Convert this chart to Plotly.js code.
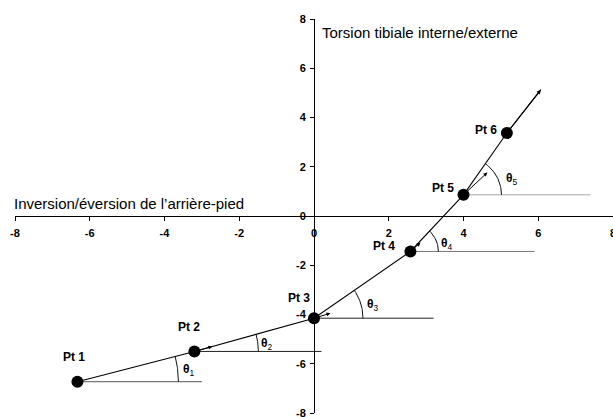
<!DOCTYPE html>
<html><head><meta charset="utf-8">
<script src="https://cdn.plot.ly/plotly-3.0.1.min.js"></script>
<style>html,body{margin:0;padding:0;background:#fff}#chart{width:613px;height:417px}</style>
</head><body><div id="chart"></div>
<script>
// Data
const pointNames = ["Pt 1", "Pt 2", "Pt 3", "Pt 4", "Pt 5", "Pt 6"];
const pointX = [-6.33, -3.2, 0.0, 2.58, 4.0, 5.16];
const pointY = [-6.73, -5.5, -4.15, -1.44, 0.86, 3.37];
const pathEndX = 6.07, pathEndY = 5.13;          // tip of the main arrow
const refLineEndX = [-3.0, 0.2, 3.2, 5.9, 7.4];  // horizontal reference lines from Pt1..Pt5
const smallArrowTipX = [-2.72, 0.44, 2.85, 4.64];  // small arrows at Pt2..Pt5
const smallArrowTipY = [-5.3, -3.95, -1.08, 1.77];
const angleNames = ["<b>θ</b><sub>1</sub>", "<b>θ</b><sub>2</sub>", "<b>θ</b><sub>3</sub>", "<b>θ</b><sub>4</sub>", "<b>θ</b><sub>5</sub>"];
const tickVals = [-8, -6, -4, -2, 0, 2, 4, 6, 8];
const xTitle = "Inversion/éversion de l’arrière-pied";
const yTitle = "Torsion tibiale interne/externe";

// layout constants
const W = 613, H = 417, M = {l: 15, r: 0, t: 19, b: 4, pad: 0};
const XR = [-8, 8], YR = [-8, 8];
const sx = (W - M.l - M.r) / (XR[1] - XR[0]);
const sy = (H - M.t - M.b) / (YR[1] - YR[0]);
const refColors = ["#555", "#222", "#222", "#777", "#aaa"];
const arcRadius = [101, 64, 49, 28, 38];
const labelShift = [[-3, 25], [-5, 24], [-15, 20], [-26, 5], [-21, 7], [-21, 3]];
const thetaShift = [[112, 12], [73, 7], [59, 13], [37, 7], [48, 16]];

const font = "Liberation Sans, Arial, Helvetica, sans-serif";
const traces = [];

// horizontal reference lines
for (let i = 0; i < refLineEndX.length; i++) {
  traces.push({x: [pointX[i], refLineEndX[i]], y: [pointY[i], pointY[i]], mode: "lines",
    line: {color: refColors[i], width: 1}, hoverinfo: "skip", showlegend: false});
}
// angle arcs (drawn in pixel space, converted to data)
for (let i = 0; i < arcRadius.length; i++) {
  const ang = Math.atan2((pointY[i + 1] - pointY[i]) * sy, (pointX[i + 1] - pointX[i]) * sx);
  const ax = [], ay = [];
  for (let k = 0; k <= 40; k++) {
    const t = ang * k / 40;
    ax.push(pointX[i] + arcRadius[i] * Math.cos(t) / sx);
    ay.push(pointY[i] + arcRadius[i] * Math.sin(t) / sy);
  }
  traces.push({x: ax, y: ay, mode: "lines", line: {color: "#111", width: 1}, hoverinfo: "skip", showlegend: false});
}
// main path
traces.push({x: pointX.concat([pathEndX]), y: pointY.concat([pathEndY]), mode: "lines",
  line: {color: "#000", width: 1.1}, hoverinfo: "skip", showlegend: false});
// points
traces.push({x: pointX, y: pointY, mode: "markers", marker: {color: "#000", size: 12},
  text: pointNames, hoverinfo: "text", showlegend: false});

const annotations = [];
pointNames.forEach((n, i) => annotations.push({x: pointX[i], y: pointY[i], xref: "x", yref: "y",
  text: n, showarrow: false, xshift: labelShift[i][0], yshift: labelShift[i][1],
  font: {family: font, size: 12, color: "#000", weight: "bold"}}));
angleNames.forEach((n, i) => annotations.push({x: pointX[i], y: pointY[i], xref: "x", yref: "y",
  text: n, showarrow: false, xshift: thetaShift[i][0], yshift: thetaShift[i][1],
  font: {family: font, size: 12, color: "#000"}}));
// main arrow head
annotations.push({x: pathEndX, y: pathEndY, ax: pointX[5], ay: pointY[5], xref: "x", yref: "y",
  axref: "x", ayref: "y", text: "", showarrow: true, arrowhead: 2, arrowsize: 0.8, arrowwidth: 1.1, arrowcolor: "#000"});
// small arrows
smallArrowTipX.forEach((tx, i) => annotations.push({x: tx, y: smallArrowTipY[i], ax: pointX[i + 1], ay: pointY[i + 1],
  xref: "x", yref: "y", axref: "x", ayref: "y", text: "", showarrow: true, arrowhead: 2,
  arrowsize: 0.8, arrowwidth: 1, arrowcolor: "#000", standoff: 0, startstandoff: 0}));
// axis titles
annotations.push({x: XR[0], y: 0.5, xref: "x", yref: "y", xanchor: "left", yanchor: "middle", xshift: -3,
  text: xTitle, showarrow: false, font: {family: font, size: 15, color: "#000"}});
annotations.push({x: 0, y: 7.47, xref: "x", yref: "y", xanchor: "left", yanchor: "middle", xshift: 6,
  text: yTitle, showarrow: false, font: {family: font, size: 15, color: "#000"}});

const axisCommon = {showgrid: false, zeroline: false, showline: true, linecolor: "#000", linewidth: 1,
  ticks: "outside", ticklen: 4, tickcolor: "#000", tickvals: tickVals, ticktext: tickVals.map(String),
  tickfont: {family: font, size: 11, color: "#000", weight: "bold"}, anchor: "free", fixedrange: true,
  ticklabeloverflow: "allow"};

const layout = {
  width: W, height: H, margin: M, paper_bgcolor: "#fff", plot_bgcolor: "#fff", showlegend: false,
  xaxis: Object.assign({}, axisCommon, {range: XR, position: (0 - YR[0]) / (YR[1] - YR[0]), ticklabelstandoff: 3}),
  yaxis: Object.assign({}, axisCommon, {range: YR, position: (0 - XR[0]) / (XR[1] - XR[0]), ticklabelstandoff: 2}),
  annotations: annotations
};
Plotly.newPlot("chart", traces, layout, {displayModeBar: false, staticPlot: true});
</script></body></html>
